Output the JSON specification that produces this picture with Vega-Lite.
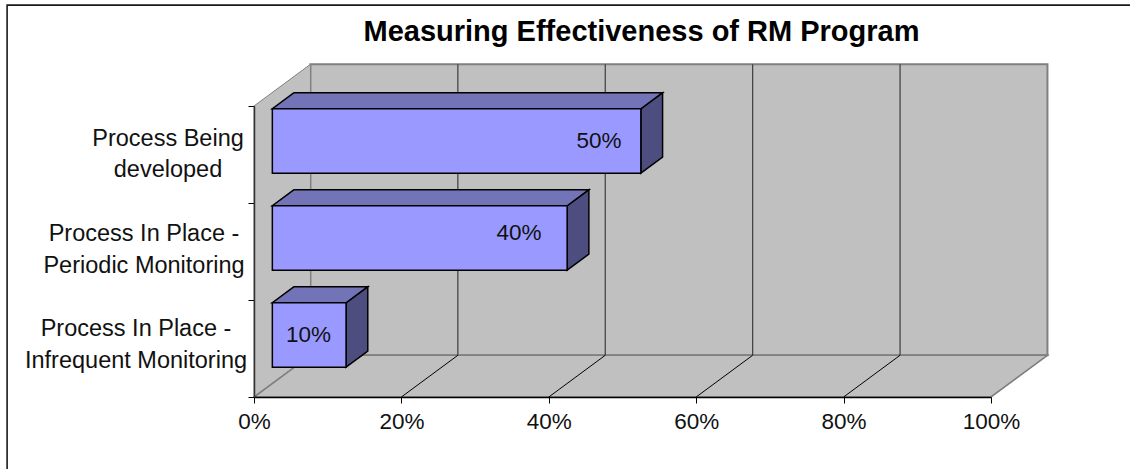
{
  "$schema": "https://vega.github.io/schema/vega-lite/v6.json",
  "width": 737,
  "height": 291,
  "autosize": "none",
  "padding": {"left": 254, "top": 106, "right": 139, "bottom": 72},
  "background": "white",
  "view": {"stroke": null},
  "title": {
    "text": "Measuring Effectiveness of RM Program",
    "font": "Liberation Sans",
    "fontSize": 29,
    "fontWeight": "bold",
    "color": "black",
    "anchor": "middle",
    "frame": "group",
    "dx": 19,
    "offset": -43
  },
  "resolve": {"axis": {"x": "independent", "y": "independent"}},
  "datasets": {
    "bars": [
      {"label": "Process Being\ndeveloped", "value": 50, "row": 2},
      {"label": "Process In Place -\nPeriodic Monitoring", "value": 40, "row": 1},
      {"label": "Process In Place -\nInfrequent Monitoring", "value": 10, "row": 0}
    ],
    "depths": [{"d": 0}, {"d": 1}],
    "ticks": [{"tick": 20}, {"tick": 40}, {"tick": 60}, {"tick": 80}],
    "floorTicks": [{"tick": 0}, {"tick": 20}, {"tick": 40}, {"tick": 60}, {"tick": 80}, {"tick": 100}]
  },
  "layer": [
    {
      "data": {"values": [{"x": -33.5, "x2": 160, "y": 4.04, "y2": -1.5}]},
      "mark": {"type": "rect", "fill": "white", "stroke": "#1a1a1a", "strokeWidth": 1.6, "clip": false},
      "encoding": {
        "x": {"field": "x", "type": "quantitative", "scale": {"domain": [0, 100], "nice": false, "zero": false}, "axis": null},
        "x2": {"field": "x2"},
        "y": {"field": "y", "type": "quantitative", "scale": {"domain": [0, 3], "nice": false, "zero": false}, "axis": null},
        "y2": {"field": "y2"}
      }
    },
    {
      "data": {"values": [{"x": 7.66, "x2": 107.66, "y": 0.43, "y2": 3.43}]},
      "mark": {"type": "rect", "fill": "#c0c0c0", "stroke": "#808080", "strokeWidth": 2},
      "encoding": {
        "x": {"field": "x", "type": "quantitative", "scale": {"domain": [0, 100], "nice": false, "zero": false}, "axis": null},
        "x2": {"field": "x2"},
        "y": {"field": "y", "type": "quantitative", "scale": {"domain": [0, 3], "nice": false, "zero": false}, "axis": null},
        "y2": {"field": "y2"}
      }
    },
    {
      "data": {"name": "depths"},
      "transform": [
        {"calculate": "7.66 * datum.d", "as": "px"},
        {"calculate": "0.43 * datum.d", "as": "py"},
        {"calculate": "3 + datum.py", "as": "pyTop"}
      ],
      "mark": {"type": "area", "orient": "vertical", "fill": "#c0c0c0", "stroke": "#808080", "strokeWidth": 1},
      "encoding": {
        "x": {"field": "px", "type": "quantitative", "scale": {"domain": [0, 100], "nice": false, "zero": false}, "axis": null},
        "y": {"field": "py", "type": "quantitative", "scale": {"domain": [0, 3], "nice": false, "zero": false}, "axis": null},
        "y2": {"field": "pyTop"}
      }
    },
    {
      "data": {"name": "depths"},
      "transform": [
        {"calculate": "7.66 * datum.d", "as": "px"},
        {"calculate": "100 + datum.px", "as": "pxEnd"},
        {"calculate": "0.43 * datum.d", "as": "py"}
      ],
      "mark": {"type": "area", "orient": "horizontal", "fill": "#c0c0c0", "stroke": "#808080", "strokeWidth": 1.6},
      "encoding": {
        "y": {"field": "py", "type": "quantitative", "scale": {"domain": [0, 3], "nice": false, "zero": false}, "axis": null},
        "x": {"field": "px", "type": "quantitative", "scale": {"domain": [0, 100], "nice": false, "zero": false}, "axis": null},
        "x2": {"field": "pxEnd"}
      }
    },
    {
      "data": {"name": "ticks"},
      "transform": [
        {"calculate": "datum.tick + 7.66", "as": "backX"},
        {"calculate": "0.43", "as": "floorY"},
        {"calculate": "3.43", "as": "topY"}
      ],
      "mark": {"type": "rule", "color": "#3d3d3d", "strokeWidth": 1.2},
      "encoding": {
        "x": {
          "field": "backX",
          "type": "quantitative",
          "scale": {"domain": [0, 100], "nice": false, "zero": false},
          "title": null,
          "axis": {
            "values": [0, 20, 40, 60, 80, 100],
            "labelExpr": "datum.value + '%'",
            "grid": false,
            "domain": true,
            "domainColor": "#000000",
            "domainWidth": 1.5,
            "tickColor": "#000000",
            "tickSize": 6,
            "labelFont": "Liberation Sans",
            "labelFontSize": 22.5,
            "labelColor": "#111111",
            "labelPadding": 7,
            "labelFlush": false,
            "labelOverlap": false,
            "zindex": 1
          }
        },
        "y": {
          "field": "floorY",
          "type": "quantitative",
          "scale": {"domain": [0, 3], "nice": false, "zero": false},
          "title": null,
          "axis": {
            "values": [0, 1, 2, 3],
            "labels": false,
            "grid": false,
            "domainColor": "#333333",
            "domainWidth": 1.5,
            "tickColor": "#000000",
            "tickSize": 6,
            "zindex": 1
          }
        },
        "y2": {"field": "topY"}
      }
    },
    {
      "data": {"name": "floorTicks"},
      "transform": [
        {"calculate": "datum.tick + 7.66", "as": "backX"},
        {"calculate": "0", "as": "frontY"},
        {"calculate": "0.43", "as": "backY"}
      ],
      "mark": {"type": "rule", "strokeWidth": 1},
      "encoding": {
        "x": {"field": "tick", "type": "quantitative", "scale": {"domain": [0, 100], "nice": false, "zero": false}, "axis": null},
        "x2": {"field": "backX"},
        "y": {"field": "frontY", "type": "quantitative", "scale": {"domain": [0, 3], "nice": false, "zero": false}, "axis": null},
        "y2": {"field": "backY"},
        "color": {"condition": {"test": "datum.tick === 0 || datum.tick === 100", "value": "#808080"}, "value": "#000000"}
      }
    },
    {
      "data": {"name": "bars"},
      "transform": [
        {"calculate": "[0.325, 0.71]", "as": "d"},
        {"flatten": ["d"]},
        {"calculate": "7.66 * datum.d", "as": "dx"},
        {"calculate": "datum.value + datum.dx", "as": "xEnd"},
        {"calculate": "datum.row + 0.168 + 0.43 * datum.d", "as": "yLow"},
        {"calculate": "datum.row + 0.832 + 0.43 * datum.d", "as": "yHigh"}
      ],
      "mark": {"type": "area", "orient": "vertical", "fill": "#4d4d80", "stroke": "#000000", "strokeWidth": 1.5},
      "encoding": {
        "x": {"field": "xEnd", "type": "quantitative", "scale": {"domain": [0, 100], "nice": false, "zero": false}, "axis": null},
        "y": {"field": "yLow", "type": "quantitative", "scale": {"domain": [0, 3], "nice": false, "zero": false}, "axis": null},
        "y2": {"field": "yHigh"},
        "detail": {"field": "row"}
      }
    },
    {
      "data": {"name": "bars"},
      "transform": [
        {"calculate": "[0.325, 0.71]", "as": "d"},
        {"flatten": ["d"]},
        {"calculate": "7.66 * datum.d", "as": "dx"},
        {"calculate": "datum.value + datum.dx", "as": "xEnd"},
        {"calculate": "datum.row + 0.832 + 0.43 * datum.d", "as": "yHigh"}
      ],
      "mark": {"type": "area", "orient": "horizontal", "fill": "#7373b8", "stroke": "#000000", "strokeWidth": 1.5},
      "encoding": {
        "y": {"field": "yHigh", "type": "quantitative", "scale": {"domain": [0, 3], "nice": false, "zero": false}, "axis": null},
        "x": {"field": "dx", "type": "quantitative", "scale": {"domain": [0, 100], "nice": false, "zero": false}, "axis": null},
        "x2": {"field": "xEnd"},
        "detail": {"field": "row"}
      }
    },
    {
      "data": {"name": "bars"},
      "transform": [
        {"calculate": "7.66 * 0.325", "as": "xStart"},
        {"calculate": "datum.value + datum.xStart", "as": "xEnd"},
        {"calculate": "datum.row + 0.168 + 0.43 * 0.325", "as": "yLow"},
        {"calculate": "datum.row + 0.832 + 0.43 * 0.325", "as": "yHigh"}
      ],
      "mark": {"type": "rect", "fill": "#9999ff", "stroke": "#000000", "strokeWidth": 1.5},
      "encoding": {
        "x": {"field": "xStart", "type": "quantitative", "scale": {"domain": [0, 100], "nice": false, "zero": false}, "axis": null},
        "x2": {"field": "xEnd"},
        "y": {"field": "yLow", "type": "quantitative", "scale": {"domain": [0, 3], "nice": false, "zero": false}, "axis": null},
        "y2": {"field": "yHigh"}
      }
    },
    {
      "data": {"name": "bars"},
      "transform": [
        {"calculate": "0.985 * datum.value - 2.45 - (datum.row === 1 ? 1 : 0)", "as": "labelX"},
        {"calculate": "datum.row + 0.5 + 0.14 + (datum.row === 1 ? 0.05 : 0)", "as": "labelY"},
        {"calculate": "datum.value + '%'", "as": "valueText"}
      ],
      "mark": {"type": "text", "font": "Liberation Sans", "fontSize": 22.5, "color": "#111111", "align": "center", "baseline": "middle"},
      "encoding": {
        "x": {"field": "labelX", "type": "quantitative", "scale": {"domain": [0, 100], "nice": false, "zero": false}, "axis": null},
        "y": {"field": "labelY", "type": "quantitative", "scale": {"domain": [0, 3], "nice": false, "zero": false}, "axis": null},
        "text": {"field": "valueText"}
      }
    },
    {
      "data": {"name": "bars"},
      "transform": [
        {"calculate": "split(datum.label, '\\n')", "as": "lines"},
        {"calculate": "max(length(datum.lines[0]), length(datum.lines[1]))", "as": "longest"},
        {"calculate": "-1.15 - (4 * datum.longest + 25.5) / 7.37", "as": "labelX"},
        {"calculate": "0.98 * datum.row + 0.70", "as": "labelY"}
      ],
      "mark": {"type": "text", "font": "Liberation Sans", "fontSize": 23.5, "color": "#111111", "align": "center", "baseline": "middle", "lineBreak": "\n", "lineHeight": 31.5, "clip": false},
      "encoding": {
        "x": {"field": "labelX", "type": "quantitative", "scale": {"domain": [0, 100], "nice": false, "zero": false}, "axis": null},
        "y": {"field": "labelY", "type": "quantitative", "scale": {"domain": [0, 3], "nice": false, "zero": false}, "axis": null},
        "text": {"field": "label"}
      }
    }
  ]
}
